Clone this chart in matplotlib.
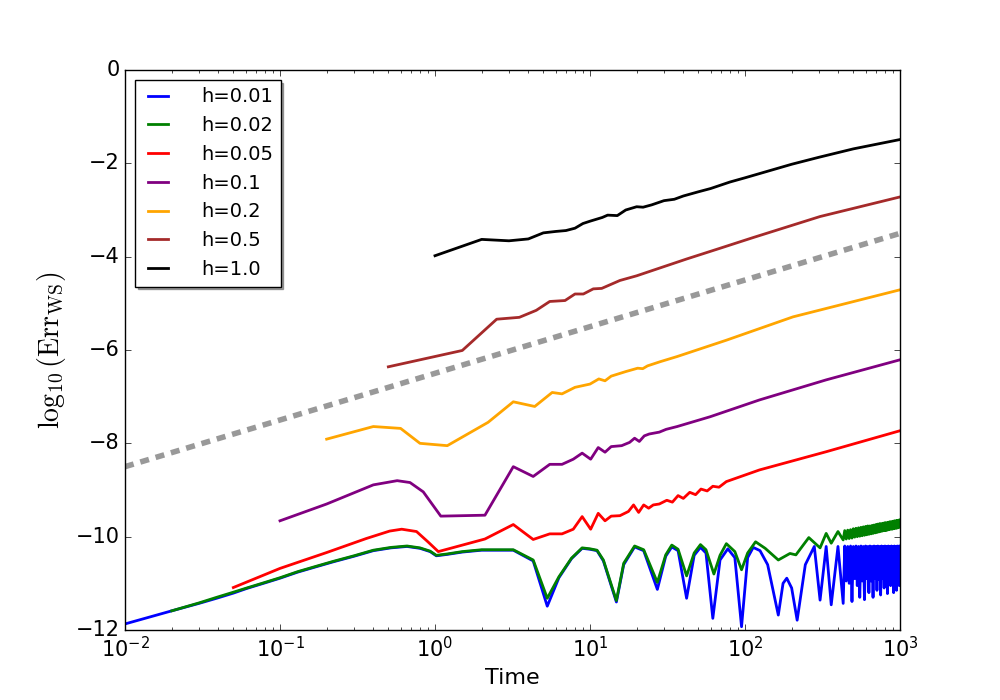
import matplotlib
matplotlib.use("Agg")
import matplotlib.pyplot as plt

plt.style.use("classic")
plt.rcParams["figure.facecolor"] = "white"
plt.rcParams["savefig.facecolor"] = "white"
plt.rcParams["lines.scale_dashes"] = False

# h = 0.01
t_h001 = [0.01, 0.02, 0.03, 0.039, 0.05, 0.061, 0.08, 0.1, 0.13, 0.173, 0.22, 0.3, 0.4,
          0.52, 0.66, 0.8, 0.93, 1.02, 1.2, 1.5, 2.0, 2.5, 3.2, 4.3, 5.3, 6.3, 7.6, 8.9,
          10, 11.1, 12.2, 14.8, 16.5, 19.4, 22.2, 27.2, 30.8, 33.7, 37, 42, 47, 51.6, 56,
          62, 69, 77.5, 86, 95, 104, 113, 125, 140, 164, 176, 186, 200, 217, 245, 280,
          305, 334, 360, 398, 430,
          440, 450, 460, 470, 480, 490, 500, 510, 520, 530, 540, 550, 560, 570, 580, 590,
          600, 610, 620, 630, 640, 650, 660, 670, 680, 690, 700, 710, 720, 730, 740, 750,
          760, 770, 780, 790, 800, 810, 820, 830, 840, 850, 860, 870, 880, 890, 900, 910,
          920, 930, 940, 950, 960, 970, 980, 990, 1000]
err_h001 = [-11.87, -11.59, -11.43, -11.32, -11.21, -11.11, -10.99, -10.89, -10.76, -10.64,
            -10.54, -10.42, -10.30, -10.24, -10.21, -10.25, -10.32, -10.41, -10.38, -10.33,
            -10.29, -10.29, -10.29, -10.52, -11.49, -10.88, -10.47, -10.25, -10.27, -10.30,
            -10.52, -11.40, -10.60, -10.22, -10.30, -11.13, -10.42, -10.22, -10.30, -11.32,
            -10.40, -10.23, -10.35, -11.75, -10.50, -10.26, -10.45, -11.93, -10.45, -10.23,
            -10.30, -10.60, -11.68, -11.00, -10.89, -11.10, -11.79, -10.60, -10.21, -11.36,
            -10.21, -11.46, -10.21, -11.43,
            -10.20, -10.95, -10.21, -11.00, -10.20, -11.39, -10.21, -10.90, -10.20, -11.05,
            -10.21, -11.30, -10.20, -10.95, -10.21, -11.35, -10.20, -10.90, -10.21, -11.20,
            -10.20, -10.95, -10.21, -11.30, -10.20, -10.90, -10.21, -11.15, -10.20, -10.92,
            -10.21, -11.25, -10.20, -10.90, -10.21, -11.10, -10.20, -10.92, -10.21, -11.22,
            -10.20, -10.90, -10.21, -11.05, -10.20, -10.95, -10.21, -11.20, -10.20, -10.90,
            -10.21, -11.15, -10.20, -10.92, -10.21, -11.05, -10.20]

# h = 0.02
t_h002 = [0.02, 0.03, 0.039, 0.05, 0.061, 0.08, 0.1, 0.13, 0.173, 0.22, 0.3, 0.4, 0.52,
          0.66, 0.8, 0.93, 1.02, 1.2, 1.5, 2.0, 2.5, 3.2, 4.3, 5.3, 6.3, 7.6, 8.9, 10,
          11.1, 12.2, 14.8, 16.5, 19.4, 22.2, 27.2, 30.8, 33.7, 37, 42, 47, 51.6, 56, 63,
          69, 75.8, 86, 95, 104, 117, 135, 164, 195, 213, 258, 305, 334, 360, 398, 430,
          440, 450, 460, 470, 480, 490, 500, 510, 520, 530, 540, 550, 560, 570, 580, 590,
          600, 610, 620, 630, 640, 650, 660, 670, 680, 690, 700, 710, 720, 730, 740, 750,
          760, 770, 780, 790, 800, 810, 820, 830, 840, 850, 860, 870, 880, 890, 900, 910,
          920, 930, 940, 950, 960, 970, 980, 990, 1000]
err_h002 = [-11.59, -11.42, -11.30, -11.19, -11.10, -10.98, -10.88, -10.75, -10.63, -10.53,
            -10.41, -10.29, -10.23, -10.20, -10.24, -10.31, -10.40, -10.37, -10.32, -10.28,
            -10.28, -10.28, -10.50, -11.32, -10.86, -10.46, -10.24, -10.26, -10.29, -10.50,
            -11.37, -10.57, -10.20, -10.28, -10.98, -10.39, -10.18, -10.27, -10.84, -10.35,
            -10.17, -10.28, -10.80, -10.40, -10.15, -10.32, -10.71, -10.35, -10.11, -10.25,
            -10.50, -10.36, -10.39, -10.02, -10.24, -9.93, -10.14, -9.89, -10.07,
            -9.87, -10.05, -9.86, -10.04, -9.85, -10.03, -9.83, -10.01, -9.82, -10.00,
            -9.81, -9.99, -9.80, -9.98, -9.79, -9.97, -9.78, -9.96, -9.77, -9.95,
            -9.77, -9.94, -9.76, -9.93, -9.75, -9.92, -9.74, -9.91, -9.73, -9.90,
            -9.72, -9.89, -9.72, -9.88, -9.71, -9.87, -9.70, -9.87, -9.70, -9.86,
            -9.69, -9.85, -9.68, -9.84, -9.68, -9.84, -9.67, -9.83, -9.66, -9.82,
            -9.66, -9.82, -9.65, -9.81, -9.65, -9.80, -9.64]

# h = 0.05
t_h005 = [0.05, 0.1, 0.2, 0.36, 0.51, 0.61, 0.76, 0.9, 1.05, 2.1, 3.2, 4.3, 5.5, 6.6, 7.8,
          8.9, 10.1, 11.3, 12.5, 13.7, 15.6, 17.7, 19.1, 20.6, 22.2, 23.9, 25.6, 28, 31.3,
          34, 37, 40, 44, 48, 52, 57, 62, 68, 75.8, 124, 334, 1000]
err_h005 = [-11.09, -10.68, -10.34, -10.04, -9.88, -9.84, -9.89, -10.11, -10.32, -10.05,
            -9.74, -10.06, -9.94, -9.94, -9.84, -9.57, -9.84, -9.50, -9.66, -9.56, -9.55,
            -9.46, -9.32, -9.48, -9.32, -9.39, -9.32, -9.30, -9.22, -9.26, -9.12, -9.18,
            -9.05, -9.10, -8.98, -9.02, -8.92, -8.94, -8.82, -8.57, -8.18, -7.73]

# h = 0.1
t_h01 = [0.1, 0.2, 0.3, 0.4, 0.57, 0.69, 0.84, 1.09, 2.1, 3.2, 4.3, 5.5, 6.6, 7.8, 8.9,
         10.1, 11.3, 12.5, 13.7, 16, 18, 19.4, 20.8, 22.4, 24.1, 28, 31, 36.5, 59.6, 124,
         334, 1000]
err_h01 = [-9.66, -9.30, -9.06, -8.89, -8.80, -8.84, -9.04, -9.56, -9.54, -8.50, -8.71,
           -8.45, -8.45, -8.34, -8.21, -8.34, -8.09, -8.19, -8.07, -8.05, -7.98, -7.89,
           -7.96, -7.84, -7.80, -7.76, -7.70, -7.64, -7.43, -7.07, -6.64, -6.21]

# h = 0.2
t_h02 = [0.2, 0.4, 0.6, 0.8, 1.2, 2.2, 3.2, 4.4, 5.7, 6.6, 8, 10, 11.4, 12.5, 13.7, 17.1,
         20.3, 21.9, 23.5, 28.4, 36.5, 75.8, 204, 1000]
err_h02 = [-7.91, -7.64, -7.68, -8.00, -8.05, -7.55, -7.11, -7.21, -6.91, -6.94, -6.80,
           -6.73, -6.62, -6.66, -6.56, -6.46, -6.39, -6.40, -6.34, -6.25, -6.14, -5.79,
           -5.29, -4.71]

# h = 0.5
t_h05 = [0.5, 1.5, 2.5, 3.5, 4.5, 5.5, 6.9, 8.0, 9.06, 10.5, 11.9, 15.6, 20, 25.6, 42, 69,
         113, 305, 1000]
err_h05 = [-6.36, -6.01, -5.34, -5.30, -5.15, -4.96, -4.94, -4.80, -4.80, -4.69, -4.68,
           -4.51, -4.41, -4.29, -4.05, -3.82, -3.59, -3.14, -2.72]

# h = 1.0
t_h1 = [1, 2, 3, 4, 5, 6, 7, 8, 9, 10, 12, 13, 15, 17, 20, 22, 25, 30, 35, 40, 50, 60, 80,
        100, 200, 300, 500, 1000]
err_h1 = [-3.98, -3.63, -3.66, -3.62, -3.49, -3.46, -3.44, -3.39, -3.29, -3.24, -3.16,
          -3.11, -3.12, -3.00, -2.93, -2.94, -2.89, -2.80, -2.77, -2.70, -2.61, -2.54,
          -2.40, -2.31, -2.02, -1.87, -1.69, -1.49]

# reference slope line
t_ref = [0.01, 1000]
err_ref = [-8.5, -3.5]

series = [
    (t_h001, err_h001, "blue", "h=0.01"),
    (t_h002, err_h002, "green", "h=0.02"),
    (t_h005, err_h005, "red", "h=0.05"),
    (t_h01, err_h01, "purple", "h=0.1"),
    (t_h02, err_h02, "orange", "h=0.2"),
    (t_h05, err_h05, "brown", "h=0.5"),
    (t_h1, err_h1, "black", "h=1.0"),
]

fig, ax = plt.subplots(figsize=(10, 7), dpi=100)

for t, err, color, label in series:
    ax.plot(t, err, color=color, lw=2, label=label)

ax.plot(t_ref, err_ref, color="0.6", lw=4, linestyle="--", dashes=(6.5, 5))

ax.set_xscale("log")
ax.set_xlim(1e-2, 1e3)
ax.set_ylim(-12, 0)
ax.tick_params(labelsize=15)
ax.set_xlabel("Time", fontsize=16)
ax.set_ylabel(r"$\log_{10}(\mathrm{Err}_{\mathrm{WS}})$", fontsize=20,
              math_fontfamily="cm")

leg = ax.legend(loc="upper left", fontsize=14, shadow=True, fancybox=False,
                handlelength=1.6, handletextpad=1.4, labelspacing=0.5)
leg.get_frame().set_edgecolor("black")

fig.savefig("out.png", dpi=100)
